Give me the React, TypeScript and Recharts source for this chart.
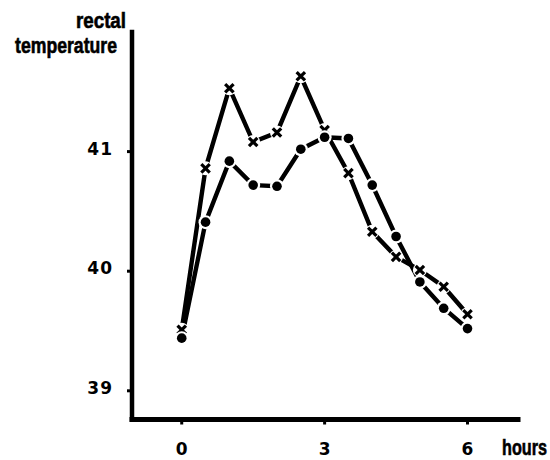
import React from 'react';
import { LineChart, Line, XAxis, YAxis } from 'recharts';

const hours = [0, 0.5, 1, 1.5, 2, 2.5, 3, 3.5, 4, 4.5, 5, 5.5, 6];
const crossTemp = [39.51, 40.86, 41.53, 41.08, 41.16, 41.63, 41.18, 40.82, 40.33, 40.12, 40.01, 39.87, 39.64];
const dotTemp = [39.44, 40.41, 40.92, 40.72, 40.71, 41.02, 41.12, 41.11, 40.72, 40.29, 39.91, 39.69, 39.52];
const xTicks = [0, 3, 6];
const yTicks = [39, 40, 41];

const data = hours.map((h, i) => ({ h, cross: crossTemp[i], dot: dotTemp[i] }));

const tickFont = "'DejaVu Sans', sans-serif";
const labelFont = "'Liberation Sans', Arial, sans-serif";

const CrossDot = (props: any) => {
  const { cx, cy } = props;
  if (cx == null || cy == null) return null;
  const s = 4.2;
  return (
    <g>
      <circle cx={cx} cy={cy} r={7} fill="#fff" />
      <line x1={cx - s} y1={cy - s} x2={cx + s} y2={cy + s} stroke="#000" strokeWidth={3.2} />
      <line x1={cx - s} y1={cy + s} x2={cx + s} y2={cy - s} stroke="#000" strokeWidth={3.2} />
    </g>
  );
};

const RoundDot = (props: any) => {
  const { cx, cy } = props;
  if (cx == null || cy == null) return null;
  return (
    <g>
      <circle cx={cx} cy={cy} r={7} fill="#fff" />
      <circle cx={cx} cy={cy} r={4.8} fill="#000" />
    </g>
  );
};

const YTick = (props: any) => {
  const { x, y, payload } = props;
  return (
    <text x={x} y={y - 3} textAnchor="end" dominantBaseline="central" fontFamily={tickFont} fontWeight="bold" fontSize={17} letterSpacing={1} fill="#000">
      {payload.value}
    </text>
  );
};

const XTick = (props: any) => {
  const { x, y, payload } = props;
  return (
    <text x={x} y={y} textAnchor="middle" dy="0.73em" fontFamily={tickFont} fontWeight="bold" fontSize={17} fill="#000">
      {payload.value}
    </text>
  );
};

export default function App() {
  return (
    <div style={{ position: 'absolute', left: 0, top: 0, width: 550, height: 460, background: '#fff' }}>
      <LineChart width={550} height={460} data={data} margin={{ top: 32, right: 32, bottom: 0.5, left: 0 }}>
        <XAxis
          dataKey="h"
          type="number"
          domain={[-1.044, 7.06]}
          allowDataOverflow
          ticks={xTicks}
          height={40}
          tickSize={5}
          tickMargin={18}
          axisLine={{ stroke: '#000', strokeWidth: 5, strokeLinecap: 'square' }}
          tickLine={{ stroke: '#000', strokeWidth: 3 }}
          tick={<XTick />}
          interval={0}
        />
        <YAxis
          type="number"
          domain={[38.76, 42.0]}
          allowDataOverflow
          ticks={yTicks}
          width={132}
          tickSize={5}
          tickMargin={14}
          axisLine={{ stroke: '#000', strokeWidth: 4.5, strokeLinecap: 'square' }}
          tickLine={{ stroke: '#000', strokeWidth: 3 }}
          tick={<YTick />}
          interval={0}
        />
        <Line dataKey="cross" stroke="#000" strokeWidth={4.4} dot={<CrossDot />} activeDot={false} isAnimationActive={false} />
        <Line dataKey="dot" stroke="#000" strokeWidth={4.4} dot={<RoundDot />} activeDot={false} isAnimationActive={false} />
      </LineChart>
      <svg width={550} height={460} style={{ position: 'absolute', left: 0, top: 0, pointerEvents: 'none' }}>
        <text x={76} y={28} textLength={50} lengthAdjust="spacingAndGlyphs" fontFamily={labelFont} fontWeight="bold" fontSize={22} stroke="#000" strokeWidth={0.6} fill="#000">rectal</text>
        <text x={15} y={53} textLength={102} lengthAdjust="spacingAndGlyphs" fontFamily={labelFont} fontWeight="bold" fontSize={22} stroke="#000" strokeWidth={0.6} fill="#000">temperature</text>
        <text x={502} y={455} textLength={45} lengthAdjust="spacingAndGlyphs" fontFamily={labelFont} fontWeight="bold" fontSize={22} stroke="#000" strokeWidth={0.6} fill="#000">hours</text>
      </svg>
    </div>
  );
}
